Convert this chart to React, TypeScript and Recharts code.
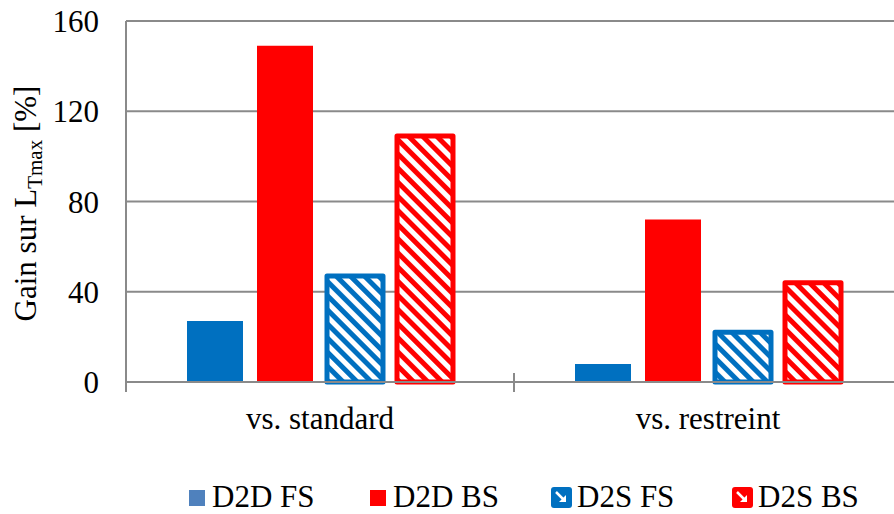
import React from "react";
import { BarChart, Bar, XAxis, YAxis, CartesianGrid } from "recharts";

const categories = ["vs. standard", "vs. restreint"];
const d2dFS = [27, 8];
const d2dBS = [149, 72];
const d2sFS = [47, 22];
const d2sBS = [109, 44];
const yTicks = [0, 40, 80, 120, 160];

const BLUE = "#0070C0";
const RED = "#FF0000";
const LEGEND_BLUE = "#4F81BD";
const GRID = "#8a8a8a";
const FONT = "Liberation Serif";

const data = categories.map((c, i) => ({
  cat: c,
  d2dFS: d2dFS[i],
  d2dBS: d2dBS[i],
  d2sFS: d2sFS[i],
  d2sBS: d2sBS[i],
}));

const legendItems = [
  { name: "D2D FS", color: LEGEND_BLUE, hatched: false },
  { name: "D2D BS", color: RED, hatched: false },
  { name: "D2S FS", color: BLUE, hatched: true },
  { name: "D2S BS", color: RED, hatched: true },
];
const LEGEND_START = 189;
const LEGEND_STEP = 181;

const CategoryTick = (props: any) => {
  const { x, y, payload, index, width, visibleTicksCount } = props;
  const n = visibleTicksCount || categories.length;
  const band = width / n;
  const left = x - band / 2;
  const right = x + band / 2;
  const isLast = index === n - 1;
  return (
    <g>
      <line x1={left} x2={left} y1={y - 9} y2={y + 10} stroke={GRID} strokeWidth={2} />
      {isLast && <line x1={right} x2={right} y1={y - 9} y2={y + 10} stroke={GRID} strokeWidth={2} />}
      <text x={x} y={y + 47} textAnchor="middle" fontFamily={FONT} fontSize={31} fill="#000">
        {payload.value}
      </text>
    </g>
  );
};

const YLabel = (props: any) => {
  const vb = props.viewBox || { x: 0, y: 0, width: 0, height: 0 };
  const x = vb.x + 36;
  const y = vb.y + vb.height / 2 + 2;
  return (
    <text
      x={x}
      y={y}
      transform={`rotate(-90, ${x}, ${y})`}
      textAnchor="middle"
      fontFamily={FONT}
      fontSize={31}
      fill="#000"
    >
      <tspan>Gain sur L</tspan>
      <tspan fontSize={21} dy={6}>Tmax</tspan>
      <tspan dy={-6}> [%]</tspan>
    </text>
  );
};

const ChartLegend = () => (
  <svg
    width={894}
    height={36}
    style={{ position: "absolute", left: 0, top: 477, display: "block" }}
  >
    {legendItems.map((it, i) => {
      const x0 = LEGEND_START + i * LEGEND_STEP;
      if (it.hatched) {
        return (
          <g key={it.name}>
            <rect x={x0} y={10} width={21} height={21} rx={3} fill={it.color} />
            <line x1={x0 + 5} y1={15} x2={x0 + 12} y2={22} stroke="#fff" strokeWidth={2.5} />
            <polygon points={`${x0 + 8},25 ${x0 + 15},25 ${x0 + 15},18`} fill="#fff" />
            <text x={x0 + 26} y={30} fontFamily={FONT} fontSize={31} fill="#000">
              {it.name}
            </text>
          </g>
        );
      }
      return (
        <g key={it.name}>
          <rect x={x0} y={13} width={16} height={16} fill={it.color} />
          <text x={x0 + 23} y={30} fontFamily={FONT} fontSize={31} fill="#000">
            {it.name}
          </text>
        </g>
      );
    })}
  </svg>
);

export default function App() {
  return (
    <div style={{ position: "absolute", left: 0, top: 0, width: 894, height: 514, overflow: "hidden", background: "#fff" }}>
      <BarChart
        width={902}
        height={514}
        data={data}
        margin={{ top: 21, right: 0, bottom: 72, left: 0 }}
        barSize={56}
        barGap={14}
      >
        <defs>
          <pattern id="hatchBlue" patternUnits="userSpaceOnUse" width={10} height={10} patternTransform="rotate(-45)">
            <rect x={0} y={0} width={10} height={10} fill="#fff" />
            <rect x={0} y={0} width={5} height={10} fill={BLUE} />
          </pattern>
          <pattern id="hatchRed" patternUnits="userSpaceOnUse" width={10} height={10} patternTransform="rotate(-45)">
            <rect x={0} y={0} width={10} height={10} fill="#fff" />
            <rect x={0} y={0} width={5} height={10} fill={RED} />
          </pattern>
        </defs>
        <CartesianGrid vertical={false} stroke={GRID} strokeWidth={2} />
        <XAxis
          dataKey="cat"
          height={60}
          tickLine={false}
          tickSize={0}
          tickMargin={0}
          axisLine={{ stroke: GRID, strokeWidth: 2 }}
          tick={<CategoryTick />}
          interval={0}
        />
        <YAxis
          width={126}
          domain={[0, 160]}
          ticks={yTicks}
          tickLine={false}
          tickSize={0}
          tickMargin={27}
          axisLine={{ stroke: GRID, strokeWidth: 2 }}
          tick={{ fill: "#000", fontSize: 31, fontFamily: FONT }}
          label={{ content: (p: any) => <YLabel {...p} /> }}
        />
        <Bar dataKey="d2dFS" name="D2D FS" fill={BLUE} isAnimationActive={false} />
        <Bar dataKey="d2dBS" name="D2D BS" fill={RED} isAnimationActive={false} />
        <Bar
          dataKey="d2sFS"
          name="D2S FS"
          fill="url(#hatchBlue)"
          stroke={BLUE}
          strokeWidth={5}
          strokeLinejoin="round"
          isAnimationActive={false}
        />
        <Bar
          dataKey="d2sBS"
          name="D2S BS"
          fill="url(#hatchRed)"
          stroke={RED}
          strokeWidth={5}
          strokeLinejoin="round"
          isAnimationActive={false}
        />
      </BarChart>
      <ChartLegend />
    </div>
  );
}
